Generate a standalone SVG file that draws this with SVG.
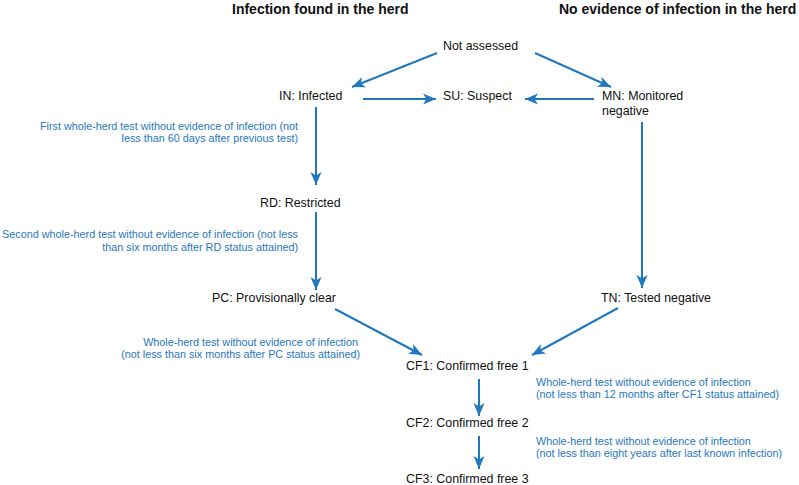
<svg xmlns="http://www.w3.org/2000/svg" width="799" height="485" viewBox="0 0 799 485">
<defs>
<style>
.t{font-family:"Liberation Sans",Arial,Helvetica,sans-serif;font-size:12.4px;fill:#111}
.h{font-family:"Liberation Sans",Arial,Helvetica,sans-serif;font-size:14px;font-weight:bold;fill:#111}
.b{font-family:"Liberation Sans",Arial,Helvetica,sans-serif;font-size:10.8px;fill:#1f77c0}
.c{stroke:#1f77c0;stroke-width:2;fill:none;marker-end:url(#ah)}
</style>
<marker id="ah" markerUnits="userSpaceOnUse" markerWidth="14" markerHeight="12" refX="13" refY="6" orient="auto">
<path d="M0,0.5 L13,6 L0,11.5 L3.5,6 z" fill="#1f77c0"/>
</marker>
</defs>
<rect width="799" height="485" fill="#fff"/>
<g id="titles">
<text class="h" x="232" y="14">Infection found in the herd</text>
<text class="h" x="559" y="14">No evidence of infection in the herd</text>
</g>
<g id="connectors">
<line class="c" x1="437" y1="53" x2="352" y2="87"/>
<line class="c" x1="535" y1="53" x2="611" y2="87"/>
<line class="c" x1="363" y1="99" x2="436" y2="99"/>
<line class="c" x1="594" y1="99" x2="525" y2="99"/>
<line class="c" x1="316" y1="107" x2="316" y2="185"/>
<line class="c" x1="316" y1="212" x2="316" y2="290"/>
<line class="c" x1="642" y1="122" x2="642" y2="288"/>
<line class="c" x1="335" y1="309" x2="422" y2="355"/>
<line class="c" x1="618" y1="308" x2="532" y2="355"/>
<line class="c" x1="479" y1="379" x2="479" y2="416"/>
<line class="c" x1="479" y1="436" x2="479" y2="469"/>
</g>
<g id="not-assessed"><text class="t" x="443" y="50">Not assessed</text></g>
<g id="IN"><text class="t" x="279" y="100">IN: Infected</text></g>
<g id="SU"><text class="t" x="443" y="100">SU: Suspect</text></g>
<g id="MN"><text class="t" x="602" y="100">MN: Monitored</text><text class="t" x="602" y="115">negative</text></g>
<g id="RD"><text class="t" x="260" y="207">RD: Restricted</text></g>
<g id="PC"><text class="t" x="212" y="302">PC: Provisionally clear</text></g>
<g id="TN"><text class="t" x="601" y="302">TN: Tested negative</text></g>
<g id="CF1"><text class="t" x="406" y="370">CF1: Confirmed free 1</text></g>
<g id="CF2"><text class="t" x="406" y="427">CF2: Confirmed free 2</text></g>
<g id="CF3"><text class="t" x="406" y="483">CF3: Confirmed free 3</text></g>
<g id="labels">
<text class="b" text-anchor="end" x="298" y="130">First whole-herd test without evidence of infection (not</text>
<text class="b" text-anchor="end" x="298" y="142">less than 60 days after previous test)</text>
<text class="b" text-anchor="end" x="298" y="238">Second whole-herd test without evidence of infection (not less</text>
<text class="b" text-anchor="end" x="298" y="251">than six months after RD status attained)</text>
<text class="b" text-anchor="end" x="358" y="346">Whole-herd test without evidence of infection</text>
<text class="b" text-anchor="end" x="360" y="358">(not less than six months after PC status attained)</text>
<text class="b" x="536" y="386">Whole-herd test without evidence of infection</text>
<text class="b" x="536" y="398">(not less than 12 months after CF1 status attained)</text>
<text class="b" x="536" y="445">Whole-herd test without evidence of infection</text>
<text class="b" x="536" y="457">(not less than eight years after last known infection)</text>
</g>
</svg>
